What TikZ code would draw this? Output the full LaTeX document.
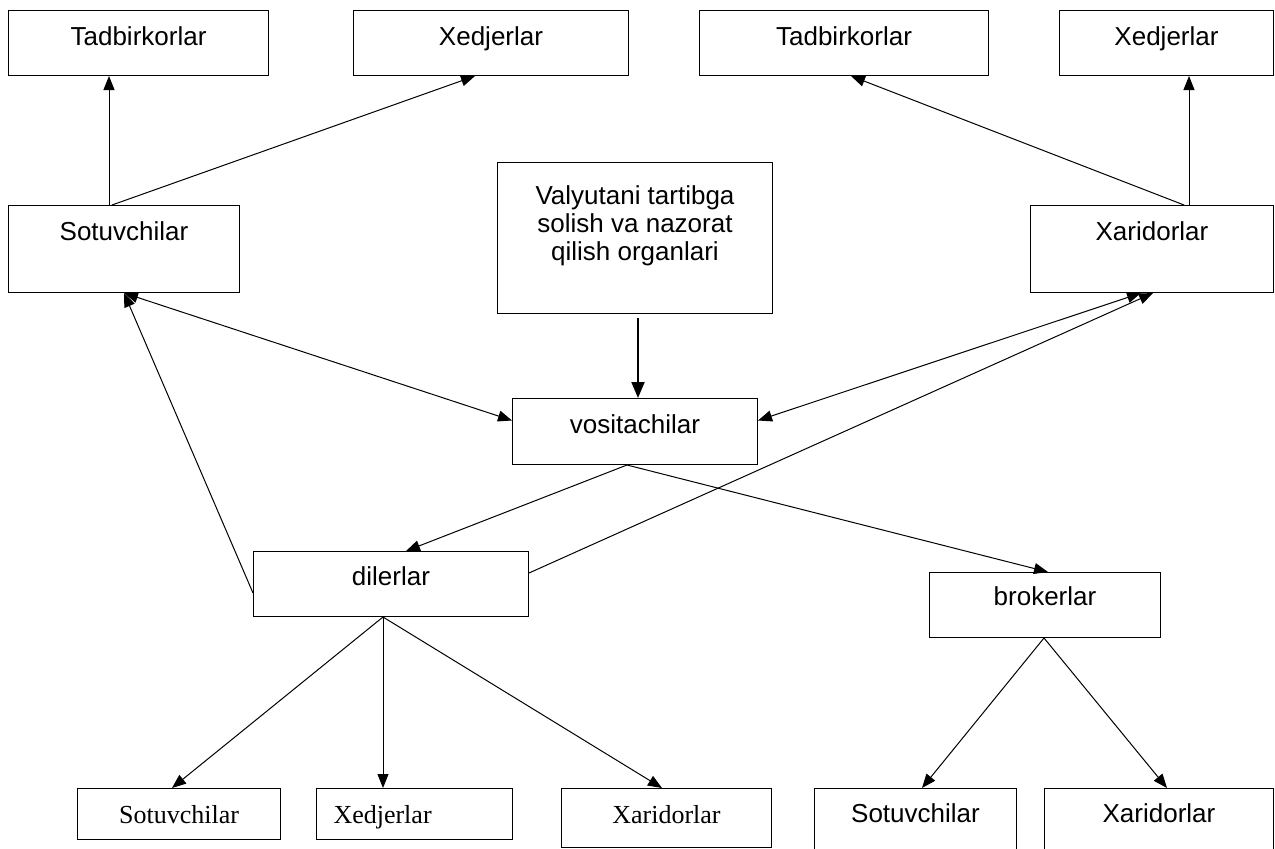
\documentclass[tikz,border=0pt]{standalone}
\usepackage{fontspec}
\setmainfont{Liberation Sans}
\newfontfamily\timesfont{Liberation Serif}
\usetikzlibrary{arrows.meta}

\begin{document}
\begin{tikzpicture}[
  x=1pt, y=-1pt,
  font=\fontsize{26pt}{28pt}\selectfont,
  box/.style={draw, line width=1pt, anchor=north west, inner sep=0pt, align=center},
  tbox/.style={box, font=\timesfont\fontsize{26pt}{28pt}\selectfont},
  flow/.style={line width=1pt, -{Triangle[length=14pt,width=11pt]}},
  flow2/.style={line width=1pt, {Triangle[length=14pt,width=11pt]}-{Triangle[length=14pt,width=11pt]}},
  ctrl/.style={line width=2pt, -{Triangle[length=16pt,width=13pt]}}
]

\useasboundingbox (0,0) rectangle (1275,849);
\clip (0,0) rectangle (1275,849);

\def\yTop{10}
\def\yMid{205}
\def\yBot{788}

% ------------------------
% Top row
% ------------------------
\node[box, minimum width=260pt, text height=35pt, text depth=30pt] (tadL) at (8,\yTop)    {Tadbirkorlar};
\node[box, minimum width=275pt, text height=35pt, text depth=30pt] (xedL) at (353,\yTop)  {Xedjerlar};
\node[box, minimum width=289pt, text height=35pt, text depth=30pt] (tadR) at (699,\yTop)  {Tadbirkorlar};
\node[box, minimum width=214pt, text height=35pt, text depth=30pt] (xedR) at (1059,\yTop) {Xedjerlar};

% Sellers / buyers / regulator
\node[box, minimum width=231pt, text height=35pt, text depth=52pt] (sotL) at (8,\yMid)    {Sotuvchilar};
\node[box, minimum width=243pt, text height=35pt, text depth=52pt] (xarR) at (1030,\yMid) {Xaridorlar};
\node[box, minimum width=275pt, text height=98pt, text depth=53pt] (valyut) at (497,162)
  {Valyutani tartibga\\solish va nazorat\\qilish organlari};

% Intermediaries
\node[box, minimum width=245pt, text height=35pt, text depth=31pt] (vosit) at (512,398) {vositachilar};
\node[box, minimum width=275pt, text height=34pt, text depth=31pt] (dil)   at (253,551) {dilerlar};
\node[box, minimum width=231pt, text height=33pt, text depth=32pt] (brok)  at (929,572) {brokerlar};

% Bottom row
\node[tbox, minimum width=203pt, text height=35pt, text depth=16pt] (sotB) at (77,\yBot) {Sotuvchilar};
\node[tbox, text width=162pt, inner xsep=17pt, align=left, text height=35pt, text depth=16pt] (xedB) at (316,\yBot) {Xedjerlar};
\node[tbox, minimum width=210pt, text height=35pt, text depth=24pt] (xarB) at (561,\yBot) {Xaridorlar};
\node[box, minimum width=202pt, text height=34pt, text depth=60pt] (sotBr) at (814,\yBot) {Sotuvchilar};
\node[box, minimum width=229pt, text height=34pt, text depth=60pt] (xarBr) at (1044,\yBot) {Xaridorlar};

% ------------------------
% Connectors
% ------------------------
\draw[flow] ([xshift=101pt]sotL.north west) -- ([xshift=101pt]tadL.south west);
\draw[flow] ([xshift=104pt]sotL.north west) -- ([xshift=122pt]xedL.south west);
\draw[flow] ([xshift=154pt]xarR.north west) -- ([xshift=152pt]tadR.south west);
\draw[flow] ([xshift=159pt]xarR.north west) -- ([xshift=130pt]xedR.south west);

\draw[ctrl] ([xshift=141pt,yshift=-4pt]valyut.south west) -- ([xshift=126pt]vosit.north west);

\draw[flow2] ([xshift=116pt]sotL.south west) -- ([yshift=11pt]vosit.west);
\draw[flow2] ([xshift=111pt]xarR.south west) -- ([yshift=11pt]vosit.east);

\draw[flow] ([yshift=-9pt]dil.west) -- ([xshift=116pt]sotL.south west);
\draw[flow] ([yshift=11pt]dil.east) -- ([xshift=123pt]xarR.south west);

\draw[flow] ([xshift=115pt]vosit.south west) -- ([xshift=153pt]dil.north west);
\draw[flow] ([xshift=115pt]vosit.south west) -- ([xshift=119pt]brok.north west);

\draw[flow] ([xshift=130pt]dil.south west) -- ([xshift=95pt]sotB.north west);
\draw[flow] ([xshift=130pt]dil.south west) -- ([xshift=67pt]xedB.north west);
\draw[flow] ([xshift=130pt]dil.south west) -- ([xshift=101pt]xarB.north west);

\draw[flow] ([xshift=115pt]brok.south west) -- ([xshift=108pt]sotBr.north west);
\draw[flow] ([xshift=115pt]brok.south west) -- ([xshift=123pt]xarBr.north west);

\end{tikzpicture}
\end{document}
